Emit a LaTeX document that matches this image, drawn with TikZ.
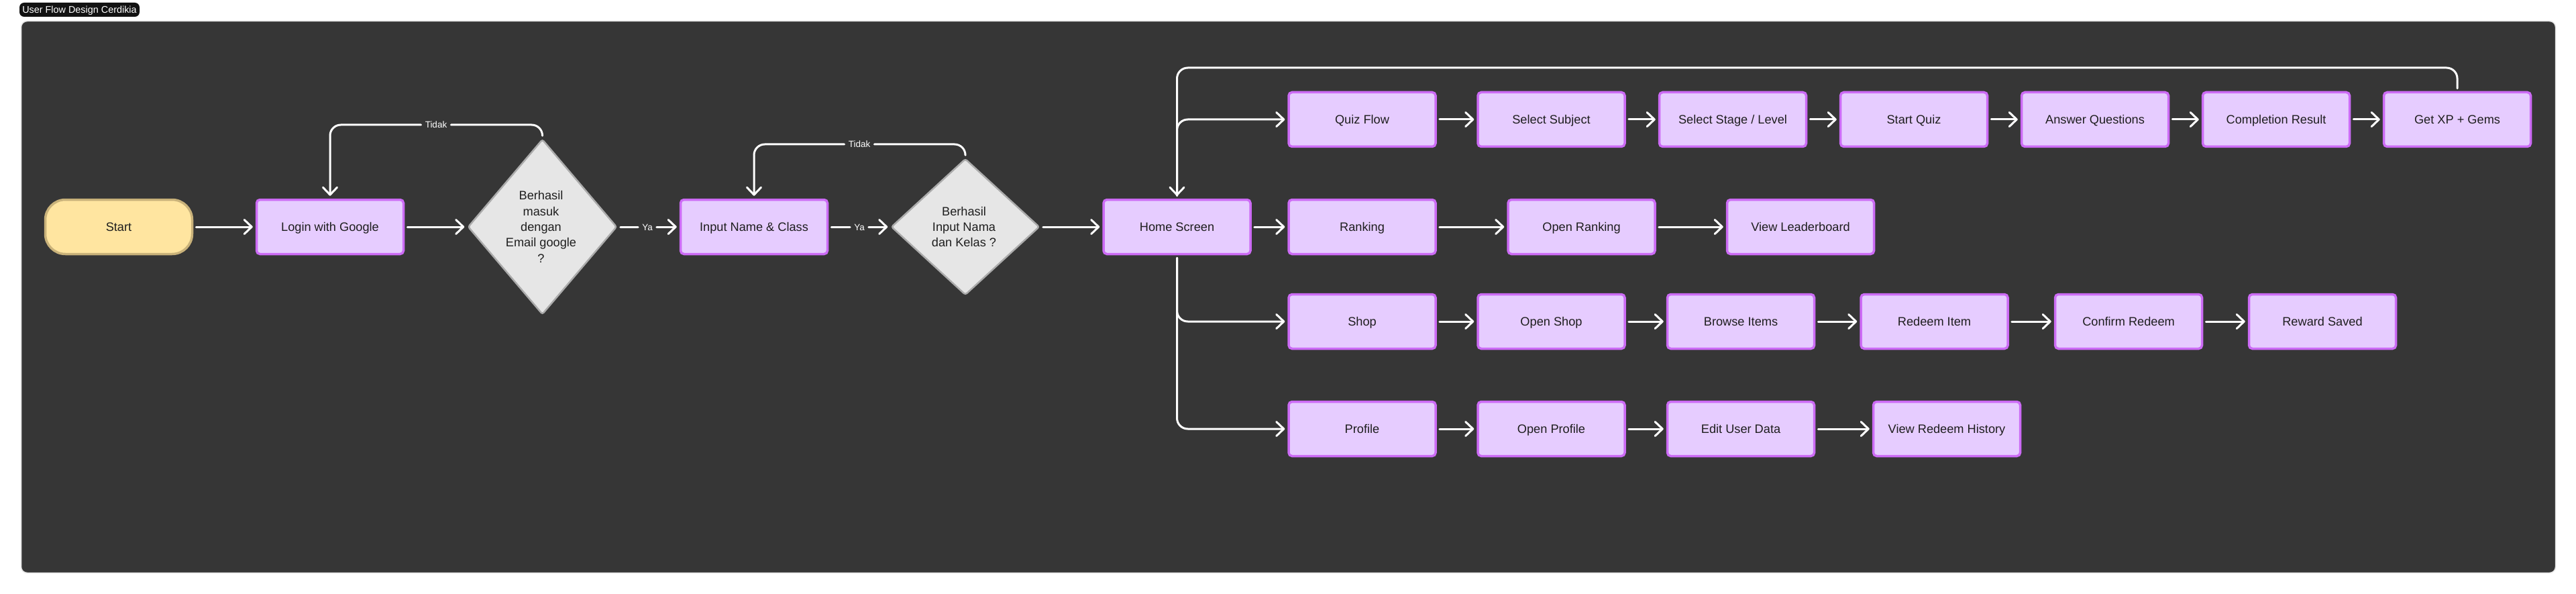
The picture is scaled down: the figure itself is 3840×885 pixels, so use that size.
\documentclass[tikz,border=0pt]{standalone}
\usepackage{fontspec}
\setmainfont{Liberation Sans}
\usetikzlibrary{arrows.meta, shapes.geometric}

\definecolor{framefill}{HTML}{363636}
\definecolor{frameline}{HTML}{E3E3E3}
\definecolor{stepfill}{HTML}{E6CCFF}
\definecolor{stepline}{HTML}{CC6BF5}
\definecolor{startfill}{HTML}{FFE5A0}
\definecolor{startline}{HTML}{C9B27A}
\definecolor{askfill}{HTML}{E6E6E6}
\definecolor{askline}{HTML}{ABABAB}
\definecolor{inktext}{HTML}{1E1E1E}

\tikzset{
    stepbox/.style={draw=stepline, fill=stepfill, line width=3.5pt, rounded corners=5pt, minimum width=219pt, minimum height=81pt, inner sep=0pt, text=inktext, text height=13pt, text depth=0pt, font=\fontsize{18.2}{22}\selectfont},
    startbox/.style={stepbox, draw=startline, fill=startfill, rounded corners=30pt},
    askbox/.style={diamond, draw=askline, fill=askfill, line width=2.5pt, rounded corners=3pt, inner sep=0pt},
    asktext/.style={align=center, inner sep=0pt, xshift=-2pt, text=inktext, font=\fontsize{18.2}{23.4}\selectfont},
    edgetext/.style={fill=framefill, text=white, inner xsep=6pt, inner ysep=3pt, text height=10pt, text depth=0pt, font=\fontsize{13.5}{16}\selectfont},
    flowline/.style={draw=white, line width=3pt, line cap=round, rounded corners=16pt, shorten <=4pt},
    flow/.style={flowline, -{Straight Barb[length=11pt, width=21pt, round]}, shorten >=4pt},
    flowend/.style={flow, shorten <=0pt}
}

\begin{document}
\begin{tikzpicture}[x=1pt, y=-1pt]
                \useasboundingbox (0,0) rectangle (3840,885);

                \node[draw=frameline, fill=framefill, line width=1.5pt, rounded corners=9pt, minimum width=3778pt, minimum height=822pt, inner sep=0pt] (frame) at (1920.5,442.5) {};
                \node[fill=black!93, text=white, rounded corners=7pt, minimum width=179pt, minimum height=21pt, inner sep=0pt, text height=10.5pt, text depth=0pt, font=\fontsize{14.4}{18}\selectfont] (title) at (118.5,14.5) {User Flow Design Cerdikia};

                \node[startbox] (start) at (177,338) {Start};
                \node[stepbox] (login) at (492,338) {Login with Google};
                \node[askbox, minimum width=222pt, minimum height=261pt, label={[asktext]center:{Berhasil\\masuk\\dengan\\Email google\\?}}] (ask1) at (808.5,338) {};
                \node[stepbox] (input) at (1124,338) {Input Name \& Class};
                \node[askbox, minimum width=221pt, minimum height=203pt, label={[asktext]center:{Berhasil\\Input Nama\\dan Kelas ?}}] (ask2) at (1439,338) {};
                \node[stepbox] (home) at (1754.5,338) {Home Screen};

                \node[stepbox] (quiz) at (2030.5,178) {Quiz Flow};
                \node[stepbox] (subject) at (2312.5,178) {Select Subject};
                \node[stepbox] (stage) at (2583,178) {Select Stage / Level};
                \node[stepbox] (startquiz) at (2853,178) {Start Quiz};
                \node[stepbox] (answer) at (3123,178) {Answer Questions};
                \node[stepbox] (result) at (3393,178) {Completion Result};
                \node[stepbox] (gems) at (3663,178) {Get XP + Gems};

                \node[stepbox] (ranking) at (2030.5,338) {Ranking};
                \node[stepbox] (openranking) at (2357.5,338) {Open Ranking};
                \node[stepbox] (board) at (2684,338) {View Leaderboard};

                \node[stepbox] (shop) at (2030.5,479) {Shop};
                \node[stepbox] (openshop) at (2312.5,479) {Open Shop};
                \node[stepbox] (browse) at (2595,479) {Browse Items};
                \node[stepbox] (redeem) at (2883.5,479) {Redeem Item};
                \node[stepbox] (confirm) at (3173,479) {Confirm Redeem};
                \node[stepbox] (saved) at (3462,479) {Reward Saved};

                \node[stepbox] (profile) at (2030.5,639) {Profile};
                \node[stepbox] (openprofile) at (2312.5,639) {Open Profile};
                \node[stepbox] (edit) at (2595,639) {Edit User Data};
                \node[stepbox] (history) at (2902,639) {View Redeem History};

                \node[edgetext] (no1) at (650,186) {Tidak};
                \node[edgetext] (no2) at (1281,215) {Tidak};
                \node[edgetext] (yes1) at (965,338) {Ya};
                \node[edgetext] (yes2) at (1281,338) {Ya};
                \coordinate (backtop) at (2700,101);

                \draw[flow] (start) -- (login);
                \draw[flow] (login) -- (ask1);
                \draw[flowline] (ask1.north) |- (no1.east);
                \draw[flowend] (no1.west) -| (login.north);
                \draw[flowline] (ask1.east) -- (yes1.west);
                \draw[flowend] (yes1.east) -- (input.west);
                \draw[flowline] (input.east) -- (yes2.west);
                \draw[flowend] (yes2.east) -- (ask2.west);
                \draw[flowline] (ask2.north) |- (no2.east);
                \draw[flowend] (no2.west) -| (input.north);
                \draw[flow] (ask2) -- (home);

                \draw[flow] (home.north) |- (quiz.west);
                \draw[flow] (home) -- (ranking);
                \draw[flow] (home.south) |- (shop.west);
                \draw[flow] (home.south) |- (profile.west);

                \draw[flow] (quiz) -- (subject);
                \draw[flow] (subject) -- (stage);
                \draw[flow] (stage) -- (startquiz);
                \draw[flow] (startquiz) -- (answer);
                \draw[flow] (answer) -- (result);
                \draw[flow] (result) -- (gems);
                \draw[flow] (gems.north) |- (backtop) -| (home.north);

                \draw[flow] (ranking) -- (openranking);
                \draw[flow] (openranking) -- (board);

                \draw[flow] (shop) -- (openshop);
                \draw[flow] (openshop) -- (browse);
                \draw[flow] (browse) -- (redeem);
                \draw[flow] (redeem) -- (confirm);
                \draw[flow] (confirm) -- (saved);

                \draw[flow] (profile) -- (openprofile);
                \draw[flow] (openprofile) -- (edit);
                \draw[flow] (edit) -- (history);
\end{tikzpicture}
\end{document}
